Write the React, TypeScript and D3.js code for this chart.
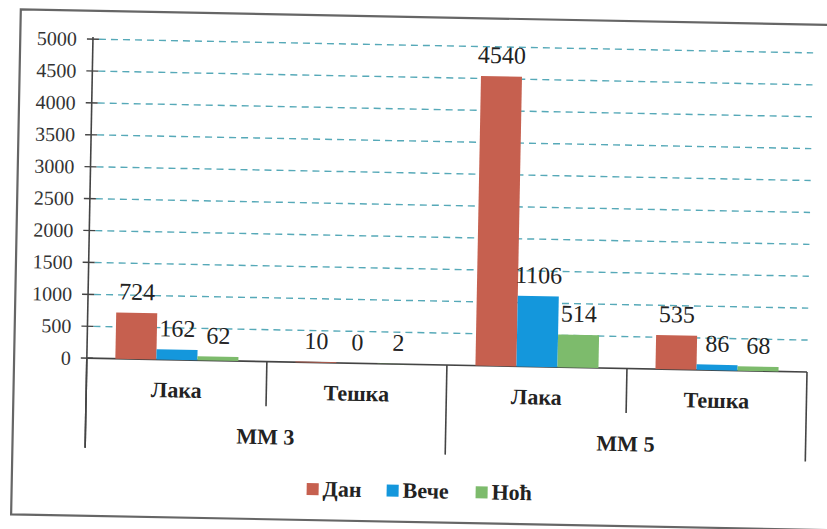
import React from "react";
import * as d3 from "d3";

const categories = ["Лака", "Тешка", "Лака", "Тешка"];
const groups = ["MM 3", "MM 5"];
const series = ["Дан", "Вече", "Ноћ"];
const danValues = [724, 10, 4540, 535];
const veceValues = [162, 0, 1106, 86];
const nocValues = [62, 2, 514, 68];
const yTicks = [0, 500, 1000, 1500, 2000, 2500, 3000, 3500, 4000, 4500, 5000];
const colors = ["#c6604f", "#1497dc", "#7dbb6c"];

const W = 827;
const H = 529;
const left = 88.7;
const right = 809;
const y0 = 364.4;
const yTop = 45.3;
const font = "'Liberation Serif', 'DejaVu Serif', serif";

export default function App() {
  const x0 = d3.scaleBand<number>().domain(d3.range(categories.length)).range([left, right]).paddingInner(0).paddingOuter(0);
  const x1 = d3.scaleBand<string>().domain(series).range([0, x0.bandwidth()]).paddingInner(0).paddingOuter(0.695);
  const y = d3.scaleLinear().domain([0, 5000]).range([y0, yTop]);
  const vals = [danValues, veceValues, nocValues];
  const bw = x0.bandwidth();

  return (
    <div style={{ position: "absolute", left: 0, top: 0, width: W, height: H, overflow: "hidden", background: "#fff" }}>
      <svg width={W} height={H} viewBox={`0 0 ${W} ${H}`} style={{ display: "block", fontFamily: font }}>
        <rect x={0} y={0} width={W} height={H} fill="#fff" />
        <g transform="rotate(1.1 414 264)">
          <path d={`M 916 17 H 16 V 522 H 916`} fill="none" stroke="#666" strokeWidth={2.2} />
          {yTicks.filter((t) => t > 0).map((t) => (
            <line key={"g" + t} x1={left + 6} x2={right} y1={y(t)} y2={y(t)} stroke="#56a9b8" strokeWidth={1.4} strokeDasharray="7 5" />
          ))}
          {yTicks.map((t) => (
            <g key={"t" + t}>
              <line x1={left - 6} x2={left + 6} y1={y(t)} y2={y(t)} stroke="#444" strokeWidth={1.4} />
              <text x={left - 16} y={y(t) + 7} textAnchor="end" fontFamily={font} fontSize={20} fill="#333">{t}</text>
            </g>
          ))}
          <line x1={left} x2={left} y1={yTop - 2} y2={454} stroke="#444" strokeWidth={1.6} />
          <line x1={left} x2={right} y1={y0} y2={y0} stroke="#444" strokeWidth={1.6} />
          {d3.range(categories.length + 1).map((i) => {
            const xx = left + i * bw;
            const long = i % 2 === 0;
            return <line key={"s" + i} x1={xx} x2={xx} y1={y0} y2={long ? 454 : 409} stroke="#444" strokeWidth={1.6} />;
          })}
          {series.map((s, si) =>
            vals[si].map((v, ci) => {
              const bx = (x0(ci) as number) + (x1(s) as number);
              return (
                <g key={s + ci}>
                  <rect x={bx} y={y(v)} width={x1.bandwidth()} height={y0 - y(v)} fill={colors[si]} />
                  <text x={bx + x1.bandwidth() / 2} y={y(v) - 13} textAnchor="middle" fontFamily={font} fontSize={24} fill="#222">{v}</text>
                </g>
              );
            })
          )}
          {categories.map((c, i) => (
            <text key={"c" + i} x={(x0(i) as number) + bw / 2} y={402} textAnchor="middle" fontFamily={font} fontSize={22} fontWeight="bold" fill="#222">{c}</text>
          ))}
          {groups.map((g, i) => (
            <text key={"gr" + i} x={left + (i * 2 + 1) * bw} y={447} textAnchor="middle" fontFamily={font} fontSize={22} fontWeight="bold" fill="#222">{g}</text>
          ))}
          {series.map((s, i) => {
            const sx = [311, 391, 480][i];
            return (
              <g key={"l" + s}>
                <rect x={sx} y={485} width={12} height={12} fill={colors[i]} />
                <text x={sx + 16} y={498} fontFamily={font} fontSize={22} fontWeight="bold" fill="#222">{s}</text>
              </g>
            );
          })}
        </g>
      </svg>
    </div>
  );
}
